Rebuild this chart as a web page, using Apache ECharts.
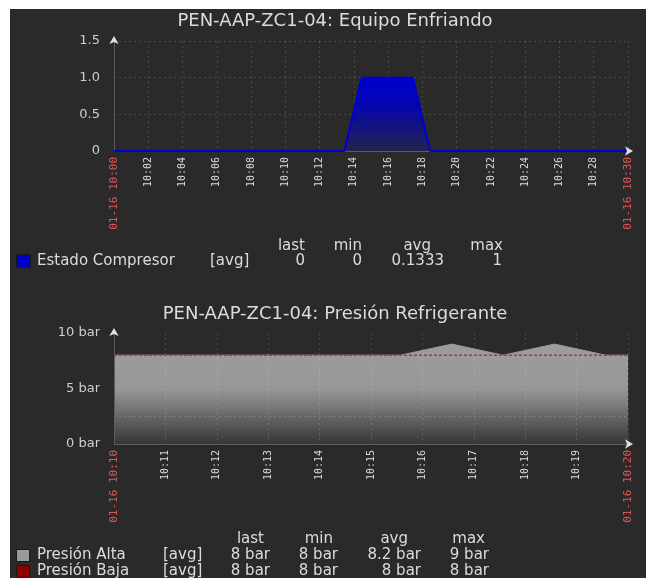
<!DOCTYPE html>
<html><head><meta charset="utf-8">
<script src="https://cdn.jsdelivr.net/npm/echarts@6/dist/echarts.min.js"></script>
<style>html,body{margin:0;padding:0;background:#fff}#c{width:646px;height:578px}</style>
</head><body><div id="c"></div>
<script>
// ---- Data ----
const title1 = 'PEN-AAP-ZC1-04: Equipo Enfriando';
const title2 = 'PEN-AAP-ZC1-04: Presión Refrigerante';
// minutes after 10:00
const compTimes = [0, 13.45, 14.45, 17.45, 18.45, 30];
const compValues = [0, 0, 1, 1, 0, 0];
const chart1TickLabels = ['01-16 10:00','10:02','10:04','10:06','10:08','10:10','10:12','10:14','10:16','10:18','10:20','10:22','10:24','10:26','10:28','01-16 10:30'];
const chart1YLabels = ['0','0.5','1.0','1.5'];
// minutes after 10:10
const altaTimes = [0, 5.57, 6.57, 7.57, 8.57, 9.57, 10];
const altaValues = [8, 8, 9, 8, 9, 8, 8];
const bajaTimes = [0, 10];
const bajaValues = [8, 8];
const chart2TickLabels = ['01-16 10:10','10:11','10:12','10:13','10:14','10:15','10:16','10:17','10:18','10:19','01-16 10:20'];
const chart2YLabels = ['0 bar','','5 bar','','10 bar'];
const statHeaders = ['last','min','avg','max'];
const compName = 'Estado Compresor';
const compStats = ['0','0','0.1333','1'];
const altaName = 'Presión Alta';
const altaStats = ['8 bar','8 bar','8.2 bar','9 bar'];
const bajaName = 'Presión Baja';
const bajaStats = ['8 bar','8 bar','8 bar','8 bar'];
const aggLabel = '[avg]';

const zip = (a, b) => a.map((v, i) => [v, b[i]]);
const FONT = '"DejaVu Sans", sans-serif';
const MONO = '"DejaVu Sans Mono", monospace';
const GRIDC = 'rgba(255,255,255,0.15)';
const NONE = 'rgba(0,0,0,0)';

function xAxisCfg(gi, max, interval, labels, step, z) {
  return {
    type: 'value', gridIndex: gi, min: 0, max: max, interval: interval, position: 'bottom', z: z,
    axisLine: { show: true, lineStyle: { color: '#5c5c5c', width: 1 } },
    axisTick: { show: false },
    splitLine: { show: true, lineStyle: { color: GRIDC, type: [2, 3], width: 1 } },
    axisLabel: {
      show: true, rotate: 90, margin: 6, showMinLabel: true, showMaxLabel: true,
      fontFamily: MONO, fontSize: 10, color: '#dcdcdc',
      formatter: function (v) {
        const idx = Math.round(v / step);
        const t = labels[idx] || '';
        if (idx === 0 || idx === labels.length - 1) return '{r|' + t + '}';
        return t;
      },
      rich: { r: { color: '#e05656', fontFamily: MONO, fontSize: 11 } }
    }
  };
}
function yAxisCfg(gi, max, interval, labels, splitColors, z) {
  return {
    type: 'value', gridIndex: gi, min: 0, max: max, interval: interval, position: 'left', z: z,
    axisLine: { show: true, lineStyle: { color: '#5c5c5c', width: 1 } },
    axisTick: { show: false },
    splitLine: { show: true, lineStyle: { color: splitColors, type: [2, 3], width: 1 } },
    axisLabel: {
      margin: 14, fontFamily: FONT, fontSize: 13, color: '#cfcfcf',
      formatter: function (v) { return labels[Math.round(v / interval)] || ''; }
    }
  };
}
function arrowX(gi, max) {
  return { type: 'value', gridIndex: gi, min: 0, max: max, position: 'bottom', z: 6,
    axisLine: { show: true, symbol: ['none', 'arrow'], symbolSize: [7, 8], symbolOffset: [0, 5],
      lineStyle: { color: '#e0e0e0', width: 0 } },
    axisTick: { show: false }, axisLabel: { show: false }, splitLine: { show: false } };
}
function arrowY(gi, max) {
  return { type: 'value', gridIndex: gi, min: 0, max: max, position: 'left', z: 6,
    axisLine: { show: true, symbol: ['none', 'arrow'], symbolSize: [7, 8], symbolOffset: [0, 5],
      lineStyle: { color: '#e0e0e0', width: 0 } },
    axisTick: { show: false }, axisLabel: { show: false }, splitLine: { show: false } };
}

function txt(text, x, y, opts) {
  return { type: 'text', x: x, y: y, z: 10, silent: true,
    style: Object.assign({ text: text, fill: '#dcdcdc', font: '15px ' + FONT,
      textAlign: 'left', textVerticalAlign: 'middle' }, opts || {}) };
}
function box(x, y, w, h, color) {
  return { type: 'rect', z: 10, silent: true, shape: { x: x, y: y, width: w, height: h },
    style: { fill: color, stroke: '#1a1a1a', lineWidth: 1 } };
}

const graphics = [
  { type: 'rect', z: -100, silent: true, shape: { x: 10, y: 9, width: 636, height: 569 }, style: { fill: '#2a2a2a' } },
  txt(title1, 335, 21, { textAlign: 'center', font: '18px ' + FONT }),
  txt(title2, 335, 314, { textAlign: 'center', font: '18px ' + FONT }),
  // legend 1
  txt(statHeaders[0], 305, 246, { textAlign: 'right' }),
  txt(statHeaders[1], 362, 246, { textAlign: 'right' }),
  txt(statHeaders[2], 431, 246, { textAlign: 'right' }),
  txt(statHeaders[3], 503, 246, { textAlign: 'right' }),
  box(16.5, 254.5, 14, 13, '#0000cc'),
  txt(compName, 37, 261),
  txt(aggLabel, 210, 261),
  txt(compStats[0], 305, 261, { textAlign: 'right' }),
  txt(compStats[1], 362, 261, { textAlign: 'right' }),
  txt(compStats[2], 444, 261, { textAlign: 'right' }),
  txt(compStats[3], 502, 261, { textAlign: 'right' }),
  // legend 2
  txt(statHeaders[0], 264, 539, { textAlign: 'right' }),
  txt(statHeaders[1], 333, 539, { textAlign: 'right' }),
  txt(statHeaders[2], 408, 539, { textAlign: 'right' }),
  txt(statHeaders[3], 485, 539, { textAlign: 'right' }),
  box(16.5, 549.5, 13, 12, '#9a9a9a'),
  txt(altaName, 37, 555),
  txt(aggLabel, 163, 555),
  txt(altaStats[0], 270, 555, { textAlign: 'right' }),
  txt(altaStats[1], 338, 555, { textAlign: 'right' }),
  txt(altaStats[2], 421, 555, { textAlign: 'right' }),
  txt(altaStats[3], 489, 555, { textAlign: 'right' }),
  box(16.5, 565.5, 13, 12, '#8b0000'),
  txt(bajaName, 37, 571),
  txt(aggLabel, 163, 571),
  txt(bajaStats[0], 270, 571, { textAlign: 'right' }),
  txt(bajaStats[1], 338, 571, { textAlign: 'right' }),
  txt(bajaStats[2], 421, 571, { textAlign: 'right' }),
  txt(bajaStats[3], 489, 571, { textAlign: 'right' })
];

const chart = echarts.init(document.getElementById('c'), null, { renderer: 'canvas' });
chart.setOption({
  backgroundColor: 'transparent',
  animation: false,
  grid: [
    { left: 114, top: 41, width: 514, height: 110 },
    { left: 114, top: 333, width: 514, height: 111 }
  ],
  xAxis: [
    xAxisCfg(0, 30, 2, chart1TickLabels, 2, 0),
    xAxisCfg(1, 10, 1, chart2TickLabels, 1, 5),
    arrowX(0, 30), arrowX(1, 10)
  ],
  yAxis: [
    yAxisCfg(0, 1.5, 0.5, chart1YLabels, GRIDC, 0),
    yAxisCfg(1, 10, 2.5, chart2YLabels, [GRIDC, GRIDC, NONE, NONE, NONE], 5),
    arrowY(0, 1.5), arrowY(1, 10)
  ],
  graphic: graphics,
  series: [
    { name: compName, type: 'line', xAxisIndex: 0, yAxisIndex: 0, data: zip(compTimes, compValues),
      symbol: 'none', z: 3,
      lineStyle: { color: '#0000d4', width: 2 },
      areaStyle: { opacity: 1, color: new echarts.graphic.LinearGradient(0, 0, 0, 1, [
        { offset: 0, color: '#0000cc' }, { offset: 0.35, color: '#0404b4' }, { offset: 1, color: '#23234c' }]) } },
    { name: altaName, type: 'line', xAxisIndex: 1, yAxisIndex: 1, data: zip(altaTimes, altaValues),
      symbol: 'none', z: 3,
      lineStyle: { color: '#9a9a9a', width: 1 },
      areaStyle: { opacity: 1, color: new echarts.graphic.LinearGradient(0, 0, 0, 1, [
        { offset: 0, color: '#9c9c9c' }, { offset: 0.45, color: '#979797' }, { offset: 1, color: '#363636' }]) } },
    { name: bajaName, type: 'line', xAxisIndex: 1, yAxisIndex: 1, data: zip(bajaTimes, bajaValues),
      symbol: 'none', z: 6,
      lineStyle: { color: '#a83a3a', width: 1.5, type: [3, 2] } }
  ]
});
</script></body></html>
